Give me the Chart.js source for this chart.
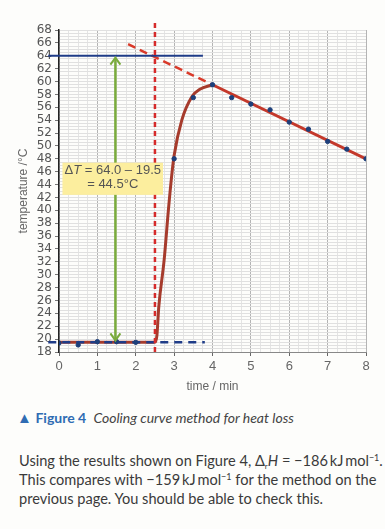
<!DOCTYPE html>
<html>
<head>
<meta charset="utf-8">
<script src="https://cdn.jsdelivr.net/npm/chart.js@4"></script>
<style>
  html, body { margin: 0; padding: 0; background: #fdfdfb; }
  body { width: 385px; height: 529px; position: relative; overflow: hidden; font-family: Lato, "Open Sans", sans-serif; }
  #chart { position: absolute; left: 0; top: 0; }
  #caption { position: absolute; left: 17px; top: 408px; font-size: 14px; color: #444; white-space: nowrap; }
  #caption .blue { color: #2f6cb3; }
  #caption .tri { font-size: 15px; }
  #caption b { font-weight: 700; }
  #text { position: absolute; left: 19px; top: 451px; width: 370px; font-size: 14.6px; line-height: 19px; color: #3a3a3a; white-space: nowrap; }
  sup { font-size: 9px; vertical-align: 5px; line-height: 0; }
  sub { font-size: 8px; vertical-align: -3px; line-height: 0; }
</style>
</head>
<body>
<canvas id="chart" width="385" height="400"></canvas>
<div id="caption"><span class="blue tri">&#9650;</span> <b class="blue">Figure 4</b>&nbsp;&nbsp;<i>Cooling curve method for heat loss</i></div>
<div id="text">Using the results shown on Figure 4, &Delta;<sub>r</sub><i>H</i> = &minus;186&thinsp;kJ&thinsp;mol<sup>&minus;1</sup>.<br>This compares with &minus;159&thinsp;kJ&thinsp;mol<sup>&minus;1</sup> for the method on the<br>previous page. You should be able to check this.</div>
<script>
// measured readings
const timeMin = [0, 0.5, 1, 1.5, 2, 3, 3.5, 4, 4.5, 5, 5.5, 6, 6.5, 7, 7.5, 8];
const tempC = [19.4, 19.1, 19.6, 19.6, 19.5, 48.0, 57.5, 59.5, 57.5, 56.5, 55.6, 53.7, 52.6, 50.7, 49.5, 48.0];

// hand drawn curve through the readings
const curveTime = [0, 2.5, 2.55, 2.6, 2.74, 2.85, 2.93, 3.0, 3.2, 3.47, 3.67, 4.0];
const curveTemp = [19.5, 19.5, 20.5, 25, 32.3, 40, 45, 48.5, 54, 57.7, 58.8, 59.5];

// best fit cooling line and its extrapolation
const fitTime = [4, 8];
const fitTemp = [59.5, 48.0];
const extrapTime = [1.8, 4];
const extrapTemp = [65.8, 59.5];

// construction lines
const mixTime = 2.5;
const mixTempRange = [18, 69.3];
const maxTemp = 64.0;
const startTemp = 19.5;
const hLineTime = [-0.28, 3.75];
const startLineTime = [-0.28, 3.8];
const arrowTime = 1.47;
const arrowTemp = [19.8, 63.7];

const xTickLabels = [0, 1, 2, 3, 4, 5, 6, 7, 8];
const yTickLabels = [18, 20, 22, 24, 26, 28, 30, 32, 34, 36, 38, 40, 42, 44, 46, 48, 50, 52, 54, 56, 58, 60, 62, 64, 66, 68];

const pts = (xs, ys) => xs.map((x, i) => ({ x: x, y: ys[i] }));

const arrowHeads = {
  id: "arrowHeads",
  afterDatasetsDraw(chart) {
    const c = chart.ctx;
    const meta = chart.getDatasetMeta(5);
    const top = meta.data[1], bot = meta.data[0];
    c.save();
    c.strokeStyle = "#7aab3c";
    c.lineWidth = 2;
    c.beginPath();
    c.moveTo(top.x - 5, top.y + 7); c.lineTo(top.x, top.y); c.lineTo(top.x + 5, top.y + 7);
    c.moveTo(bot.x - 5, bot.y - 7); c.lineTo(bot.x, bot.y); c.lineTo(bot.x + 5, bot.y - 7);
    c.stroke();
    c.restore();
  },
};

const labelBox = {
  id: "labelBox",
  afterDatasetsDraw(chart) {
    const c = chart.ctx;
    const xs = chart.scales.x, ys = chart.scales.y;
    const x0 = xs.getPixelForValue(0.09), x1 = xs.getPixelForValue(2.71);
    const y0 = ys.getPixelForValue(47.4), y1 = ys.getPixelForValue(42.4);
    c.save();
    c.fillStyle = "#fcee9e";
    c.fillRect(x0, y0, x1 - x0, y1 - y0);
    c.fillStyle = "#555";
    c.textBaseline = "middle";
    const cx = (x0 + x1) / 2;
    const parts = [["\u0394", "13px 'Liberation Sans'"], ["T", "italic 13px 'Liberation Sans'"], [" = 64.0 \u2013 19.5", "13px 'Liberation Sans'"]];
    let w = 0;
    parts.forEach((p) => { c.font = p[1]; w += c.measureText(p[0]).width; });
    let x = cx - w / 2;
    parts.forEach((p) => { c.font = p[1]; c.fillText(p[0], x, y0 + 8); x += c.measureText(p[0]).width; });
    c.font = "13px 'Liberation Sans'";
    c.textAlign = "center";
    c.fillText("= 44.5\u00b0C", cx, y0 + 22);
    c.restore();
  },
};

new Chart(document.getElementById("chart"), {
  type: "scatter",
  data: {
    datasets: [
      { // 0 readings
        data: pts(timeMin, tempC),
        backgroundColor: "#1d3f7a", borderColor: "#1d3f7a",
        pointRadius: 2.2, showLine: false, order: 0,
      },
      { // 1 curve
        data: pts(curveTime, curveTemp),
        showLine: true, borderColor: "#a63b2c", borderWidth: 3,
        pointRadius: 0, cubicInterpolationMode: "monotone", order: 9,
      },
      { // 2 fit
        data: pts(fitTime, fitTemp),
        showLine: true, borderColor: "#c4382a", borderWidth: 3,
        pointRadius: 0, order: 8,
      },
      { // 3 extrapolation
        data: pts(extrapTime, extrapTemp),
        showLine: true, borderColor: "#d93a2a", borderWidth: 2.5, borderDash: [8, 5],
        pointRadius: 0, order: 7,
      },
      { // 4 start temperature line
        data: pts(startLineTime, [startTemp, startTemp]),
        showLine: true, borderColor: "#1f3c88", borderWidth: 2.5, borderDash: [8, 6],
        pointRadius: 0, order: 6, clip: false,
      },
      { // 5 green arrow
        data: pts([arrowTime, arrowTime], arrowTemp),
        showLine: true, borderColor: "#7aab3c", borderWidth: 2.5,
        pointRadius: 0, order: 3,
      },
      { // 6 max temperature line
        data: pts(hLineTime, [maxTemp, maxTemp]),
        showLine: true, borderColor: "#1f3c88", borderWidth: 2,
        pointRadius: 0, order: 5, clip: false,
      },
      { // 7 mixing time
        data: pts([mixTime, mixTime], mixTempRange),
        showLine: true, borderColor: "#d62b2b", borderWidth: 2.5, borderDash: [5, 4],
        pointRadius: 0, order: 2, clip: false,
      },
    ],
  },
  options: {
    responsive: false,
    animation: false,
    events: [],
    layout: { padding: { top: 30, right: 19, left: 0, bottom: 0 } },
    plugins: { legend: { display: false }, tooltip: { enabled: false } },
    scales: {
      x: {
        type: "linear", min: 0, max: 8,
        afterFit: (s) => { s.height = 48; },
        border: { color: "#888", width: 1 },
        grid: {
          color: (ctx) => (Number.isInteger(ctx.tick.value) ? "#b4b4b4" : "#e4e4e4"),
          tickColor: (ctx) => (Number.isInteger(ctx.tick.value) ? "#666" : "rgba(0,0,0,0)"),
          tickLength: 4,
        },
        ticks: {
          stepSize: 0.25, autoSkip: false, maxRotation: 0, padding: 3,
          color: "#666", font: { family: "'Liberation Sans'", size: 13 },
          callback: (v) => (xTickLabels.includes(v) ? String(v) : ""),
        },
        title: {
          display: true, text: "time / min", color: "#666",
          font: { family: "'Liberation Sans'", size: 12 },
          padding: { top: 0, bottom: 6 },
        },
      },
      y: {
        type: "linear", min: 18, max: 68,
        afterFit: (s) => { s.width = 59; },
        border: { color: "#222", width: 1.5 },
        grid: {
          color: "#e0e0e0",
          tickColor: (ctx) => (yTickLabels.includes(ctx.tick.value) ? "#777" : "rgba(0,0,0,0)"),
          tickLength: 4,
        },
        ticks: {
          stepSize: 0.5, autoSkip: false, padding: 3,
          color: "#555", font: { family: "'DejaVu Sans'", size: 12 },
          callback: (v) => (yTickLabels.includes(v) ? String(v) : ""),
        },
        title: {
          display: true, text: "temperature /\u00b0C", color: "#666",
          font: { family: "'Liberation Sans'", size: 12 },
          padding: { top: 16, bottom: 0 },
        },
      },
    },
  },
  plugins: [labelBox, arrowHeads],
});
</script>
</body>
</html>
